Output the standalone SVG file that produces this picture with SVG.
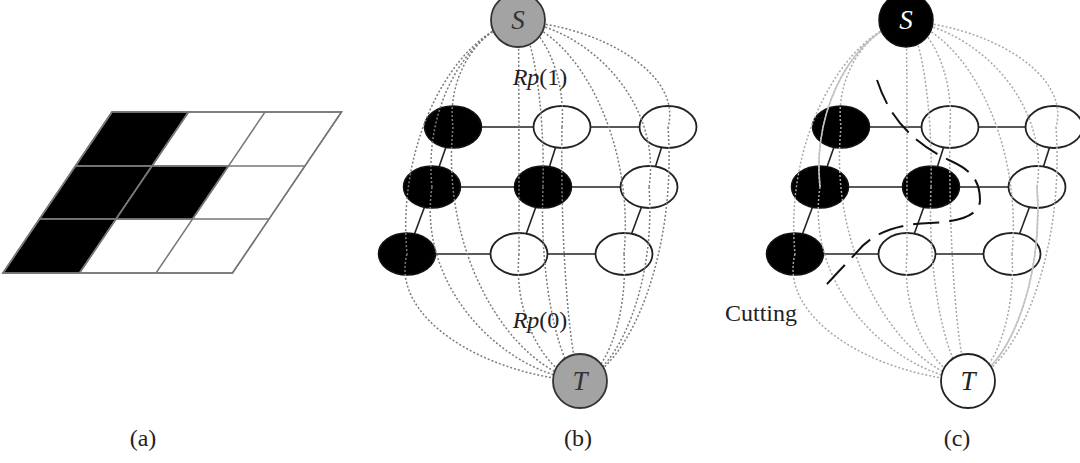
<svg xmlns="http://www.w3.org/2000/svg" xmlns:xlink="http://www.w3.org/1999/xlink" width="1080" height="463" viewBox="0 0 1080 463">
<style>
.cell{stroke:#777;stroke-width:1.5;stroke-linejoin:miter}
.blk{fill:#000}
.wht{fill:#fff}
.edge{stroke:#222;stroke-width:1.6;fill:none}
.nb{fill:#000;stroke:#111;stroke-width:1.5}
.nw{fill:#fff;stroke:#222;stroke-width:1.8}
.dotb{fill:none;stroke:#7c7c7c;stroke-width:1.5;stroke-dasharray:2 2}
.dotc{fill:none;stroke:#a8a8a8;stroke-width:1.5;stroke-dasharray:2 2}
.solidc{fill:none;stroke:#c4c4c4;stroke-width:1.6}
.cut{fill:none;stroke:#111;stroke-width:2;stroke-dasharray:26 10}
.lbl{font-family:"Liberation Serif","Times New Roman",serif;font-size:24px;fill:#222}
.big{font-size:27px;font-style:italic}
.it{font-style:italic}
</style>
<defs>
<g id="curveset">
<path d="M518,21 C482,26 446,74 453,127"/>
<path d="M518,21 C542,26 566,74 562,127"/>
<path d="M518,21 C600,26 683,74 668,127"/>
<path d="M518,21 C471,29 423,104 432,187"/>
<path d="M518,21 C532,29 545,104 543,187"/>
<path d="M518,21 C590,29 662,104 649,187"/>
<path d="M518,21 C457,33 396,138 407,254"/>
<path d="M518,21 C519,33 519,138 519,254"/>
<path d="M518,21 C576,33 635,138 624,254"/>
<path d="M453,127 C440,254 511,368 581,381"/>
<path d="M562,127 C560,254 571,368 581,381"/>
<path d="M668,127 C677,254 629,368 581,381"/>
<path d="M432,187 C417,284 499,371 581,381"/>
<path d="M543,187 C539,284 560,371 581,381"/>
<path d="M649,187 C656,284 618,371 581,381"/>
<path d="M407,254 C390,318 485,375 581,381"/>
<path d="M519,254 C513,318 547,375 581,381"/>
<path d="M624,254 C628,318 605,375 581,381"/>
</g>
<g id="edgeset">
<line x1="453" y1="127" x2="562" y2="127"/>
<line x1="562" y1="127" x2="668" y2="127"/>
<line x1="432" y1="187" x2="543" y2="187"/>
<line x1="543" y1="187" x2="649" y2="187"/>
<line x1="407" y1="254" x2="519" y2="254"/>
<line x1="519" y1="254" x2="624" y2="254"/>
<line x1="453" y1="127" x2="432" y2="187"/>
<line x1="562" y1="127" x2="543" y2="187"/>
<line x1="668" y1="127" x2="649" y2="187"/>
<line x1="432" y1="187" x2="407" y2="254"/>
<line x1="543" y1="187" x2="519" y2="254"/>
<line x1="649" y1="187" x2="624" y2="254"/>
</g>
</defs>

<!-- Panel (a) grid -->
<g id="grid-a">
<polygon class="cell wht" points="112,112 341.5,112 232.5,273 3,273"/>
<polygon class="cell blk" points="112,112 188.5,112 152,166 75.5,166"/>
<polygon class="cell blk" points="75.5,166 152,166 116,219 39.5,219"/>
<polygon class="cell blk" points="152,166 228.5,166 192.5,219 116,219"/>
<polygon class="cell blk" points="39.5,219 116,219 79.5,273 3,273"/>
<line class="cell" x1="75.5" y1="166" x2="305" y2="166"/>
<line class="cell" x1="39.5" y1="219" x2="269" y2="219"/>
<line class="cell" x1="188.5" y1="112" x2="79.5" y2="273"/>
<line class="cell" x1="265" y1="112" x2="156" y2="273"/>
<polygon class="cell" fill="none" points="112,112 341.5,112 232.5,273 3,273"/>
</g>

<!-- Panel (b) -->
<g id="edges-b" class="edge"><use href="#edgeset" xlink:href="#edgeset"/></g>
<g id="b-A1"><ellipse class="nb" cx="453" cy="127" rx="28.5" ry="21"/></g>
<g id="b-A2"><ellipse class="nw" cx="562" cy="127" rx="28.5" ry="21"/></g>
<g id="b-A3"><ellipse class="nw" cx="668" cy="127" rx="28.5" ry="21"/></g>
<g id="b-B1"><ellipse class="nb" cx="432" cy="187" rx="28.5" ry="21"/></g>
<g id="b-B2"><ellipse class="nb" cx="543" cy="187" rx="28.5" ry="21"/></g>
<g id="b-B3"><ellipse class="nw" cx="649" cy="187" rx="28.5" ry="21"/></g>
<g id="b-C1"><ellipse class="nb" cx="407" cy="254" rx="28.5" ry="21"/></g>
<g id="b-C2"><ellipse class="nw" cx="519" cy="254" rx="28.5" ry="21"/></g>
<g id="b-C3"><ellipse class="nw" cx="624" cy="254" rx="28.5" ry="21"/></g>
<g id="curves-b" class="dotb"><use href="#curveset" xlink:href="#curveset"/></g>
<g id="b-S"><circle cx="518" cy="20" r="27" fill="#a3a3a3" stroke="#333" stroke-width="1.8"/><text class="lbl big" x="518" y="29" text-anchor="middle" style="fill:#333">S</text></g>
<g id="b-T"><circle cx="580" cy="381" r="27" fill="#a3a3a3" stroke="#333" stroke-width="1.8"/><text class="lbl big" x="580" y="390" text-anchor="middle" style="fill:#333">T</text></g>
<text class="lbl" x="540" y="85" text-anchor="middle"><tspan class="it">Rp</tspan>(1)</text>
<text class="lbl" x="540" y="328" text-anchor="middle"><tspan class="it">Rp</tspan>(0)</text>

<!-- Panel (c) -->
<g transform="translate(388,0)">
<g id="edges-c" class="edge"><use href="#edgeset" xlink:href="#edgeset"/></g>
<g id="c-A1"><ellipse class="nb" cx="453" cy="127" rx="28.5" ry="21"/></g>
<g id="c-A2"><ellipse class="nw" cx="562" cy="127" rx="28.5" ry="21"/></g>
<g id="c-A3"><ellipse class="nw" cx="666" cy="127" rx="28.5" ry="21"/></g>
<g id="c-B1"><ellipse class="nb" cx="432" cy="187" rx="28.5" ry="21"/></g>
<g id="c-B2"><ellipse class="nb" cx="543" cy="187" rx="28.5" ry="21"/></g>
<g id="c-B3"><ellipse class="nw" cx="649" cy="187" rx="28.5" ry="21"/></g>
<g id="c-C1"><ellipse class="nb" cx="407" cy="254" rx="28.5" ry="21"/></g>
<g id="c-C2"><ellipse class="nw" cx="519" cy="254" rx="28.5" ry="21"/></g>
<g id="c-C3"><ellipse class="nw" cx="624" cy="254" rx="28.5" ry="21"/></g>
<g id="curves-c">
<g class="dotc"><use href="#curveset" xlink:href="#curveset"/></g>
<path class="solidc" d="M518,21 C471,29 423,104 432,187"/>
<path class="solidc" d="M649,187 C656,284 618,371 581,381"/>
</g>
<g id="c-S"><circle cx="518" cy="20" r="27" fill="#000" stroke="#111" stroke-width="1.5"/><text class="lbl big" x="518" y="29" text-anchor="middle" style="fill:#fff">S</text></g>
<g id="c-T"><circle cx="580" cy="381" r="27" fill="#fff" stroke="#222" stroke-width="1.8"/><text class="lbl big" x="580" y="390" text-anchor="middle" style="fill:#222">T</text></g>
</g>
<g id="cut-line">
<path class="cut" d="M877,80 C887,110 905,140 953,162 C970,170 980,180 980,200 C980,215 960,222 930,223 C895,224 870,235 857,252 C845,265 830,280 822,290"/>
</g>
<text class="lbl" x="725" y="321">Cutting</text>

<!-- Panel captions -->
<text class="lbl" x="143" y="446" text-anchor="middle">(a)</text>
<text class="lbl" x="578" y="446" text-anchor="middle">(b)</text>
<text class="lbl" x="957" y="446" text-anchor="middle">(c)</text>
</svg>
